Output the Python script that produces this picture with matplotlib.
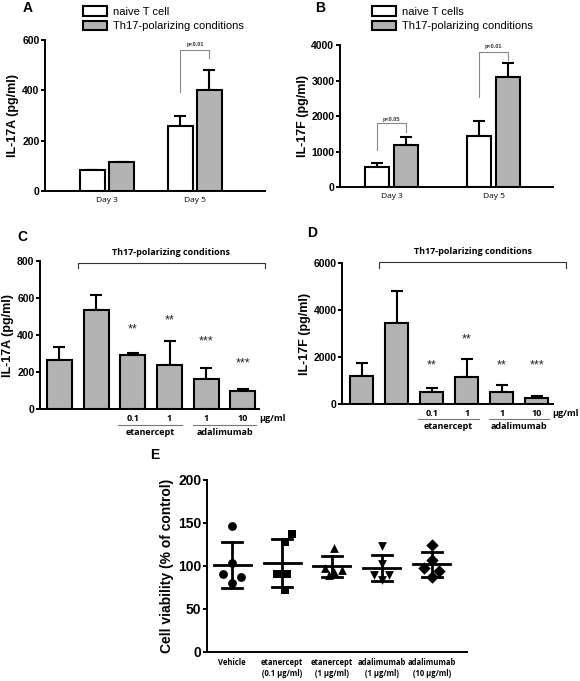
import numpy as np
import matplotlib.pyplot as plt
from matplotlib.patches import Patch

plt.rcParams['font.family'] = ['Liberation Sans', 'DejaVu Sans']

# Panel A - IL-17A
days = ["Day 3", "Day 5"]
a_naive = [85, 260]
a_naive_err = [0, 38]
a_th17 = [115, 400]
a_th17_err = [2, 80]

# Panel B - IL-17F
b_naive = [550, 1430]
b_naive_err = [130, 420]
b_th17 = [1180, 3100]
b_th17_err = [220, 400]

# Panel C / D - treatments
c_vals = [265, 535, 290, 240, 160, 95]
c_err = [70, 80, 15, 130, 62, 15]
c_stars = ["", "", "**", "**", "***", "***"]
c_star_y = [0, 0, 400, 447, 333, 215]
d_vals = [1200, 3450, 520, 1150, 520, 250]
d_err = [550, 1350, 180, 750, 300, 80]
d_stars = ["", "", "**", "**", "**", "***"]
d_star_y = [0, 0, 1400, 2500, 1400, 1400]
doses = ["", "", "0.1", "1", "1", "10"]

# Panel E - cell viability
e_labels = ["Vehicle", "etanercept\n(0.1 μg/ml)", "etanercept\n(1 μg/ml)",
            "adalimumab\n(1 μg/ml)", "adalimumab\n(10 μg/ml)"]
e_vehicle = [146.5, 104, 90.5, 86.7, 80]
e_etan01 = [137, 128, 91, 91, 71.5]
e_etan1 = [121, 98, 95, 93, 90]
e_adal1 = [123, 102, 90, 90, 84]
e_adal10 = [124.5, 107, 98, 94, 87]
e_offsets = [[0, 0, -0.18, 0.18, 0], [0.2, 0.05, -0.1, 0.1, 0.05],
             [0.05, -0.13, 0.2, 0.05, -0.05], [0, 0, -0.15, 0.15, 0],
             [0, 0, -0.15, 0.15, 0]]
e_markers = ["o", "s", "^", "v", "D"]

gray = "#b3b3b3"
small = ['Open Sans', 'DejaVu Sans']

fig = plt.figure(figsize=(5.8, 6.81), dpi=100)


def style(ax, tick_fs=7.5):
    for s in ["top", "right"]:
        ax.spines[s].set_visible(False)
    for s in ["left", "bottom"]:
        ax.spines[s].set_linewidth(1.4)
    ax.tick_params(axis="y", width=1.4, length=3, labelsize=tick_fs, pad=1)
    ax.tick_params(axis="x", length=0, pad=4)
    for t in ax.get_yticklabels():
        t.set_fontweight("bold")


def bracket(ax, x0, x1, top, y0, y1, text, color, fs=4):
    ax.plot([x0, x0, x1, x1], [y0, top, top, y1], color=color, lw=0.8, clip_on=False)
    if text:
        ax.text((x0 + x1) / 2, top * 1.02, text, ha="center", va="bottom",
                fontsize=fs, fontweight="bold", color="#333333")


def bars(ax, x, vals, errs, color, w):
    ax.bar(x, vals, w, color=color, edgecolor="black", linewidth=1.5, zorder=2)
    ax.errorbar(x, vals, yerr=[np.zeros(len(errs)), errs], fmt="none",
                ecolor="black", elinewidth=1.5, capsize=4, capthick=1.5, zorder=1)


def legend(ax, first, xf):
    ax.legend(handles=[Patch(facecolor="white", edgecolor="black", lw=1.5, label=first),
                       Patch(facecolor=gray, edgecolor="black", lw=1.5,
                             label="Th17-polarizing conditions")],
              loc="upper left", bbox_to_anchor=(xf, 0.997), bbox_transform=fig.transFigure,
              frameon=False, fontsize=8, handlelength=2.2, handleheight=0.9,
              handletextpad=0.5, labelspacing=0.35, borderaxespad=0)


# ---- A ----
axA = fig.add_axes([0.0776, 0.7195, 0.379, 0.2217])
xg = np.arange(2)
bars(axA, xg - 0.165, a_naive, a_naive_err, "white", 0.28)
bars(axA, xg + 0.165, a_th17, a_th17_err, gray, 0.28)
axA.set_xlim(-0.705, 1.795)
axA.set_ylim(0, 600)
axA.set_yticks([0, 200, 400, 600])
axA.set_xticks(xg)
axA.set_xticklabels(days, fontsize=6, family=small)
axA.set_ylabel("IL-17A (pg/ml)", fontsize=9, fontweight="bold", labelpad=2)
style(axA)
bracket(axA, 0.835, 1.165, 560, 395, 530, "p<0.01", "#888888")
legend(axA, "naive T cell", 0.135)

# ---- B ----
axB = fig.add_axes([0.586, 0.7254, 0.367, 0.2085])
bars(axB, xg - 0.142, b_naive, b_naive_err, "white", 0.235)
bars(axB, xg + 0.142, b_th17, b_th17_err, gray, 0.235)
axB.set_xlim(-0.51, 1.58)
axB.set_ylim(0, 4000)
axB.set_yticks([0, 1000, 2000, 3000, 4000])
axB.set_xticks(xg)
axB.set_xticklabels(days, fontsize=6, family=small)
axB.set_ylabel("IL-17F (pg/ml)", fontsize=9, fontweight="bold", labelpad=2)
style(axB)
bracket(axB, -0.142, 0.142, 1790, 1040, 1550, "p<0.05", "#888888")
bracket(axB, 0.858, 1.142, 3810, 2540, 3570, "p<0.01", "#888888")
legend(axB, "naive T cells", 0.633)


def treat_panel(rect, vals, errs, stars, star_y, ymax, yticks, ylabel, xlim, w, br_right, br_top, br_leg):
    ax = fig.add_axes(rect)
    x = np.arange(6)
    bars(ax, x, vals, errs, gray, w)
    ax.set_xlim(*xlim)
    ax.set_ylim(0, ymax)
    ax.set_yticks(yticks)
    ax.set_xticks([])
    ax.set_ylabel(ylabel, fontsize=9, fontweight="bold", labelpad=2)
    style(ax)
    for xi, s, sy in zip(x, stars, star_y):
        if s:
            ax.text(xi, sy, s, ha="center", va="bottom", fontsize=9, color="#222222")
    for xi, d in zip(x, doses):
        ax.text(xi, -0.035 * ymax, d, ha="center", va="top", fontsize=6.5, fontweight="bold", family=small)
    ax.text(5.45, -0.035 * ymax, "μg/ml", ha="left", va="top", fontsize=6.5, fontweight="bold", family=small)
    for a, b, name in [(1.6, 3.35, "etanercept"), (3.65, 5.35, "adalimumab")]:
        ax.plot([a, b], [-0.11 * ymax] * 2, color="#777777", lw=0.8, clip_on=False)
        ax.text((a + b) / 2, -0.13 * ymax, name, ha="center", va="top", fontsize=6.5,
                fontweight="bold", family=small)
    ax.plot([0.5, 0.5, br_right, br_right], [br_leg, br_top, br_top, br_leg],
            color="#333333", lw=0.8, clip_on=False)
    ax.text((0.5 + br_right) / 2, br_top + 0.04 * ymax, "Th17-polarizing conditions",
            ha="center", va="bottom", fontsize=6.5, fontweight="bold", family=small)
    return ax


treat_panel([0.069, 0.3994, 0.3776, 0.2173], c_vals, c_err, c_stars, c_star_y, 800,
            [0, 200, 400, 600, 800], "IL-17A (pg/ml)", (-0.53, 5.44), 0.68, 5.6, 790, 760)
treat_panel([0.5897, 0.4068, 0.364, 0.207], d_vals, d_err, d_stars, d_star_y, 6000,
            [0, 2000, 4000, 6000], "IL-17F (pg/ml)", (-0.56, 5.47), 0.66, 5.84, 6050, 5800)

# ---- E ----
axE = fig.add_axes([0.357, 0.0426, 0.448, 0.2526])
groups = [e_vehicle, e_etan01, e_etan1, e_adal1, e_adal10]
for i, (g, off, m) in enumerate(zip(groups, e_offsets, e_markers)):
    g = np.array(g)
    axE.scatter(i + np.array(off), g, marker=m, s=40, color="black", zorder=3, linewidths=0)
    mean = g.mean()
    sd = g.std(ddof=1)
    axE.plot([i - 0.37, i + 0.37], [mean, mean], color="black", lw=2)
    axE.plot([i, i], [mean - sd, mean + sd], color="black", lw=2)
    for y in (mean - sd, mean + sd):
        axE.plot([i - 0.2, i + 0.2], [y, y], color="black", lw=2)
axE.set_xlim(-0.5, 4.7)
axE.set_ylim(0, 200)
axE.set_yticks([0, 50, 100, 150, 200])
axE.set_xticks(range(5))
axE.set_xticklabels(e_labels, fontsize=5.5, fontweight="bold", family=small, linespacing=1.35)
axE.set_ylabel("Cell viability (% of control)", fontsize=10, fontweight="bold", labelpad=3)
style(axE, tick_fs=10)
axE.tick_params(axis="x", pad=4)

# panel letters
for lab, x, y in [("A", 28, 8), ("B", 320, 8), ("C", 22, 237), ("D", 312, 233), ("E", 155, 455)]:
    fig.text(x / 580, 1 - y / 681, lab, fontsize=10, fontweight="bold", ha="center", va="center")

fig.savefig("out.png", dpi=100)
